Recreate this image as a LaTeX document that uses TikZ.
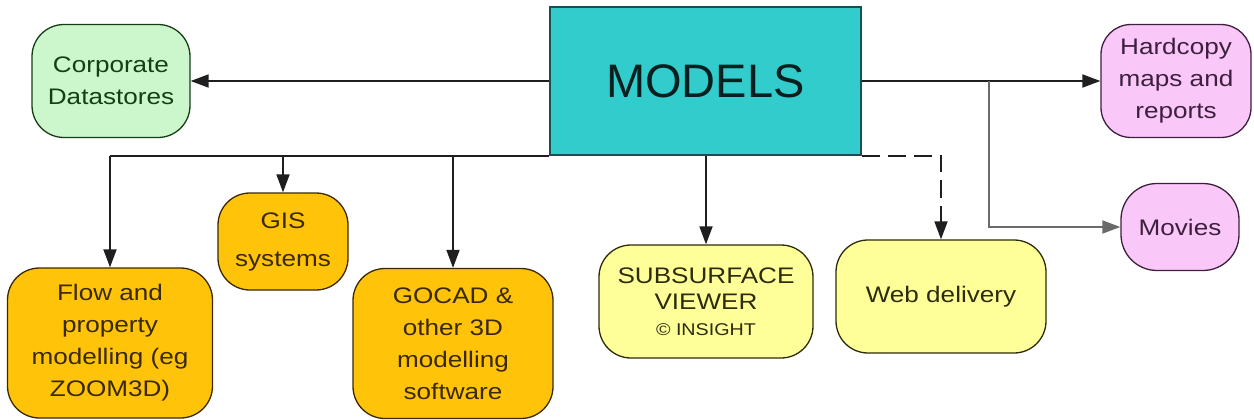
\documentclass[tikz,border=0pt]{standalone}
\usepackage{fontspec}
\usetikzlibrary{arrows.meta}
\newfontfamily\boxfont[FakeStretch=1.16]{Liberation Sans}
\newfontfamily\modelsfont{Liberation Sans}
\definecolor{cgreen}{HTML}{CCF7CC}
\definecolor{cteal}{HTML}{33CCCC}
\definecolor{cpink}{HTML}{F9C8F9}
\definecolor{corange}{HTML}{FFC40A}
\definecolor{cyellow}{HTML}{FFFF99}
\definecolor{tgreen}{HTML}{163E16}
\definecolor{tpurple}{HTML}{3E203E}
\definecolor{tbrown}{HTML}{3A2800}
\definecolor{tolive}{HTML}{2C2C0A}
\definecolor{lineg}{HTML}{6A6A6A}
\tikzset{
  rbox/.style={draw, line width=1.3pt, rounded corners=32pt, inner sep=0pt, align=center,
    font=\boxfont\fontsize{22.5}{32}\selectfont},
  arr/.style={draw=black!88, line width=1.8pt, -{Triangle[length=18pt,width=13pt]}},
  plainline/.style={draw=black!88, line width=1.8pt},
}
\begin{document}
\begin{tikzpicture}[x=1pt,y=-1pt]
\useasboundingbox (0,0) rectangle (1254,420);
\node[draw=cteal!40!black, line width=1.3pt, fill=cteal, minimum width=311pt, minimum height=148pt, inner sep=0pt,
  font=\modelsfont\fontsize{47}{50}\selectfont, text=black!85!cteal] (models) at (705.5,81) {MODELS};
\node[rbox, fill=cgreen, draw=tgreen, text=tgreen, minimum width=158pt, minimum height=113pt] (corp) at (111,81) {Corporate\\Datastores};
\node[rbox, fill=cpink, draw=tpurple, text=tpurple, minimum width=150pt, minimum height=113pt, rounded corners=30pt] (hard) at (1176,81) {Hardcopy\\maps and\\reports};
\node[rbox, fill=cpink, draw=tpurple, text=tpurple, minimum width=118pt, minimum height=87pt, rounded corners=36pt] (movies) at (1180,227) {Movies};
\node[rbox, fill=corange, draw=tbrown, text=tbrown, minimum width=205pt, minimum height=150pt] (flow) at (110,343) {Flow and\\property\\modelling (eg\\ZOOM3D)};
\node[rbox, fill=corange, draw=tbrown, text=tbrown, minimum width=130pt, minimum height=97pt, font=\boxfont\fontsize{22.5}{38}\selectfont] (gis) at (283,241.5) {GIS\\systems};
\node[rbox, fill=corange, draw=tbrown, text=tbrown, minimum width=200pt, minimum height=150pt] (gocad) at (453,343.5) {GOCAD \&\\other 3D\\modelling\\software};
\node[rbox, fill=cyellow, draw=tolive, text=tolive, minimum width=214pt, minimum height=113pt, font=\boxfont\fontsize{22.5}{26}\selectfont] (sub) at (706,301.5) {SUBSURFACE\\VIEWER\\{\fontsize{17}{26}\selectfont \textcopyright\ INSIGHT}};
\node[rbox, fill=cyellow, draw=tolive, text=tolive, minimum width=210pt, minimum height=113pt] (web) at (941,296.5) {Web delivery};
% connectors
\draw[arr] (models.west) -- (corp.east);
\coordinate (jn) at (989,81);
\draw[arr] (models.east) -- (hard.west);
\draw[arr, draw=lineg] (jn) |- (movies.west);
\draw[plainline] (models.south west) -- (flow.north |- models.south);
\draw[arr] (flow.north |- models.south) -- (flow.north);
\draw[arr] (gis.north |- models.south) -- (gis.north);
\draw[arr] (gocad.north |- models.south) -- (gocad.north);
\draw[arr] (sub.north |- models.south) -- (sub.north);
\draw[arr, dash pattern=on 18pt off 8pt] (models.south east) -| (web.north);
\end{tikzpicture}
\end{document}
